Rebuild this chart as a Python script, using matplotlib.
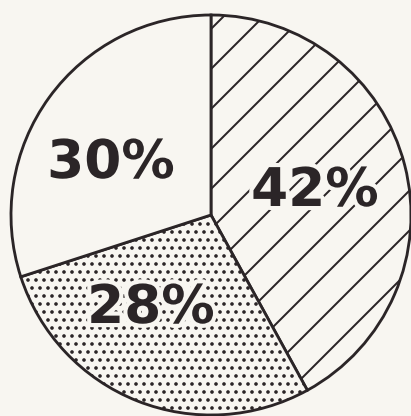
import matplotlib.pyplot as plt
import matplotlib.patheffects as pe

# slice shares, clockwise from 12 o'clock
shares = [42, 28, 30]
hatches = ["//", ".....", None]
label_pos = [(0.52, 0.12), (-0.30, -0.465), (-0.50, 0.26)]

ink = "#2b2527"
paper = "#f8f6f1"

plt.rcParams["hatch.linewidth"] = 0.6
plt.rcParams["hatch.color"] = ink

fig = plt.figure(figsize=(411 / 240, 416 / 240), dpi=240, facecolor=paper)
ax = fig.add_axes([11 / 411, 1 / 416, 400 / 411, 400 / 416])
ax.set_facecolor(paper)

wedges, _ = ax.pie(
    shares,
    startangle=90,
    counterclock=False,
    colors=[paper] * len(shares),
    wedgeprops=dict(edgecolor=ink, linewidth=0.85, clip_on=False),
)
for w, hatch in zip(wedges, hatches):
    if hatch:
        w.set_hatch(hatch)

for share, (x, y) in zip(shares, label_pos):
    ax.text(x, y, f"{share}%", ha="center", va="center", fontsize=16,
            fontweight="bold", family="DejaVu Sans", color=ink,
            path_effects=[pe.withStroke(linewidth=2.5, foreground=paper)])

ax.set_xlim(-1, 1)
ax.set_ylim(-1, 1)
ax.set_aspect("equal")
ax.axis("off")

fig.savefig("out.png", dpi=240, facecolor=paper)
